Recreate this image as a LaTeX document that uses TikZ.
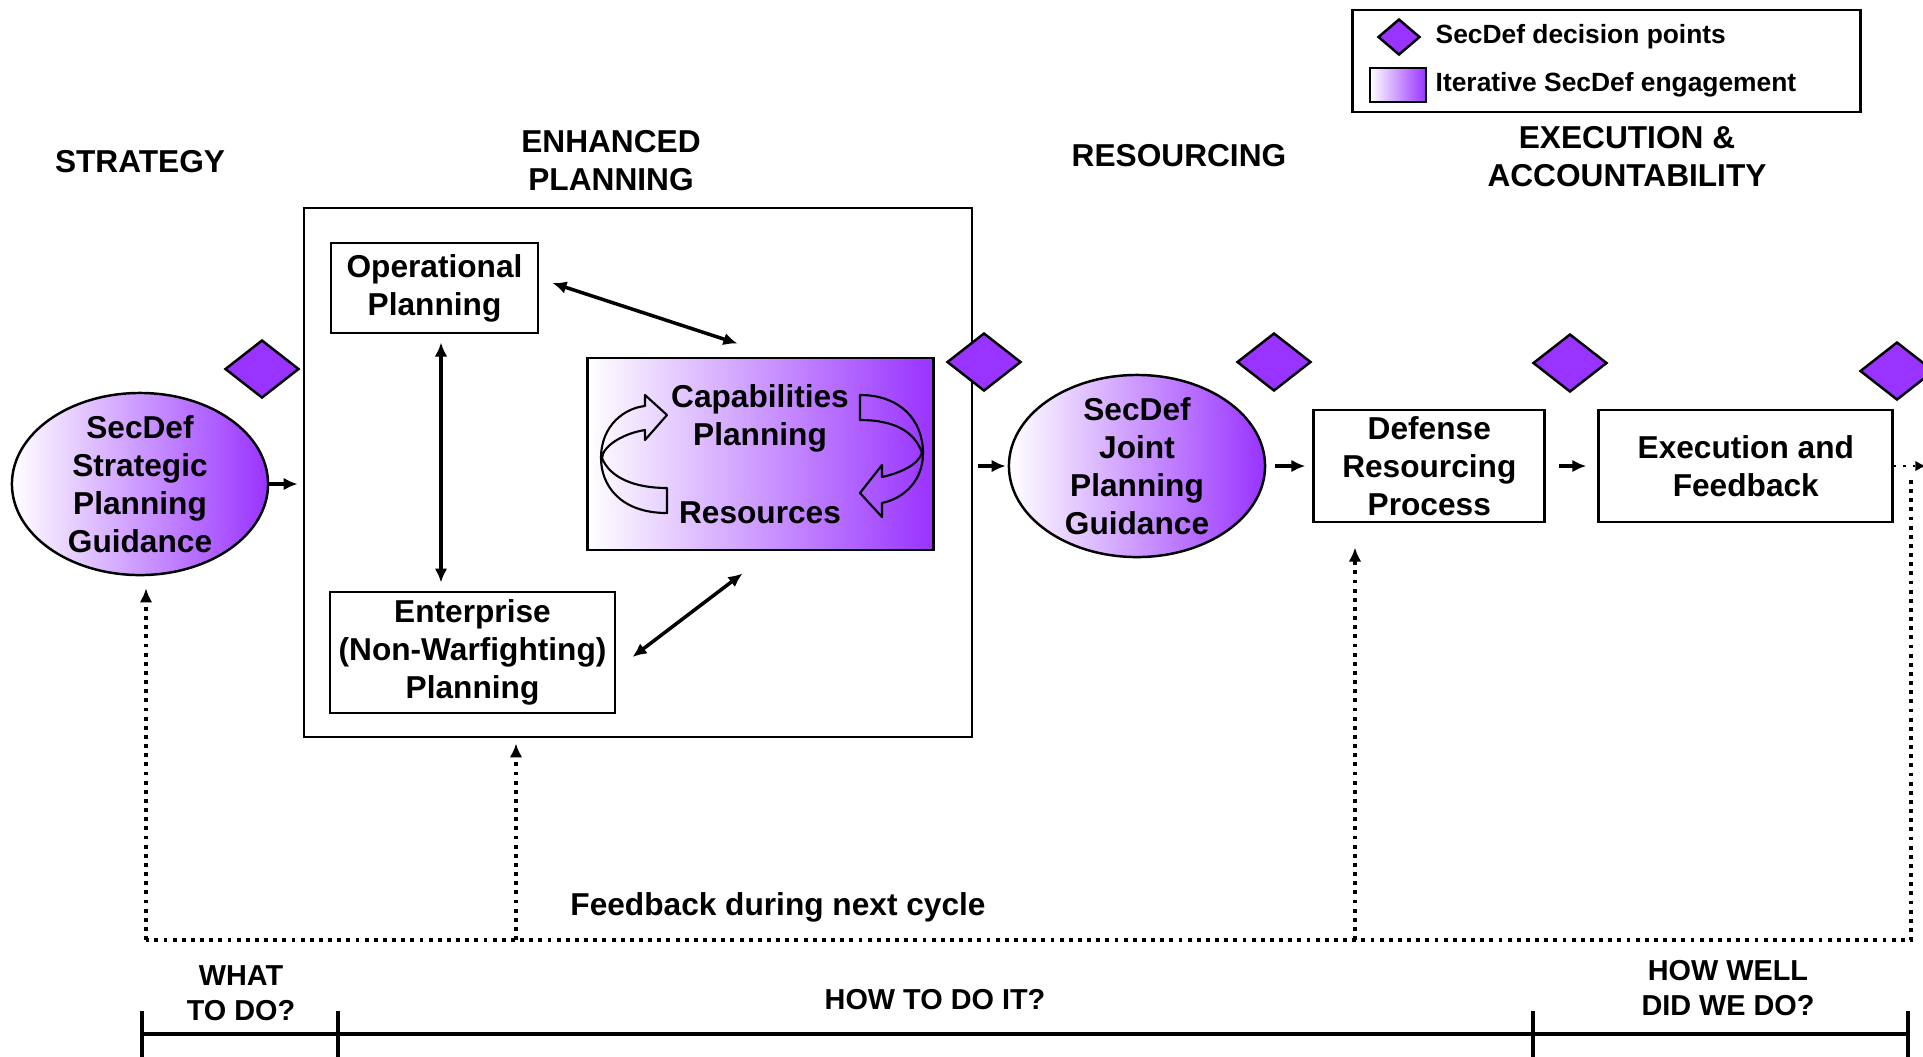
\documentclass[tikz,border=0pt]{standalone}
\usepackage{fontspec}
\setmainfont{Liberation Sans}
\usepackage{tikz}
\usetikzlibrary{positioning,shapes.geometric,arrows.meta,calc}
\definecolor{secpurple}{RGB}{153,51,255}

\begin{document}
\begin{tikzpicture}[x=0.01cm, y=-0.01cm,
        txt/.style={font=\bfseries\fontsize{9}{10.8}\selectfont, align=center, inner sep=0pt},
        smalltxt/.style={txt, font=\bfseries\fontsize{8.2}{10}\selectfont},
        legtxt/.style={txt, font=\bfseries\fontsize{7.5}{9}\selectfont, anchor=west},
        procbox/.style={rectangle, draw, line width=0.8pt, fill=white, txt},
        shadebox/.style={rectangle, draw, line width=0.8pt, left color=white, right color=secpurple},
        guide/.style={ellipse, draw, line width=0.7pt, left color=white, right color=secpurple, minimum width=2.56cm, minimum height=1.82cm, inner sep=0pt},
        decision/.style={diamond, draw, line width=0.7pt, fill=secpurple, minimum width=0.74cm, minimum height=0.58cm, inner sep=0pt},
        flow/.style={line width=1.1pt, -{Latex[length=4pt,width=3.6pt]}},
        both/.style={line width=1pt, {Latex[length=4pt,width=3.6pt]}-{Latex[length=4pt,width=3.6pt]}},
        feedback/.style={line width=1.1pt, dash pattern=on 1.1pt off 1.5pt},
        ribbon/.style={line width=0.6pt, line join=round}]

        \useasboundingbox (0,0) rectangle (1923,1056);
        \clip (0,0) rectangle (1923,1056);

        % legend
        \node[draw, line width=0.8pt, minimum width=5.07cm, minimum height=1.02cm] (legend) at (1606.5,61) {};
        \node[decision, minimum width=0.42cm, minimum height=0.36cm] (legdec) at (1399,37) {};
        \node[legtxt] (legdectxt) at (1435,37) {SecDef decision points};
        \node[shadebox, minimum width=0.56cm, minimum height=0.34cm] (legeng) at (1398,85) {};
        \node[legtxt] (legengtxt) at (1435,85) {Iterative SecDef engagement};

        % headings
        \node[txt] (hstrat) at (140,162) {STRATEGY};
        \node[txt] (hplan) at (611,161) {ENHANCED\\PLANNING};
        \node[txt] (hres) at (1179,156) {RESOURCING};
        \node[txt] (hexec) at (1627,157) {EXECUTION \&\\ACCOUNTABILITY};

        % strategy
        \node[guide] (sspg) at (140,484) {};
        \node[txt] (sspgtxt) at (sspg) {SecDef\\Strategic\\Planning\\Guidance};
        \node[decision] (dec1) at (262,369) {};

        % enhanced planning
        \node[rectangle, draw, line width=0.7pt, minimum width=6.68cm, minimum height=5.29cm] (plan) at (638,472.5) {};
        \node[procbox, minimum width=2.07cm, minimum height=0.9cm] (op) at (434.5,288) {Operational\\Planning};
        \node[procbox, minimum width=2.85cm, minimum height=1.21cm] (ent) at (472.5,652.5) {Enterprise\\(Non-Warfighting)\\Planning};
        \node[shadebox, minimum width=3.45cm, minimum height=1.92cm] (cap) at (760.5,454) {};
        \node[txt] (captxt) at (760,418) {Capabilities\\Planning};
        \node[txt] (restxt) at (760,513) {Resources};
        \draw[ribbon] (667,513) .. controls (620,513) and (601,485) .. (601,458) .. controls (601,425) and (625,408) .. (645,406) -- (645,395) -- (667,415) -- (645,440) -- (645,430) .. controls (625,433) and (603,445) .. (602,458) .. controls (610,478) and (635,488) .. (667,488) -- cycle;
        \draw[ribbon] (860,395) .. controls (900,395) and (923,420) .. (923,453) .. controls (923,480) and (905,498) .. (882,503) -- (882,517) -- (860,493) -- (882,465) -- (882,477) .. controls (900,473) and (918,465) .. (922,453) .. controls (915,432) and (895,420) .. (860,420) -- cycle;
        \node[decision] (dec2) at (984,362) {};

        % resourcing, execution
        \node[guide] (sjpg) at (1137,466) {};
        \node[txt] (sjpgtxt) at (sjpg) {SecDef\\Joint\\Planning\\Guidance};
        \node[decision] (dec3) at (1274,362) {};
        \node[procbox, minimum width=2.31cm, minimum height=1.12cm] (drp) [right=0.46cm of sjpg] {Defense\\Resourcing\\Process};
        \node[decision] (dec4) at (1570,363) {};
        \node[procbox, minimum width=2.94cm, minimum height=1.12cm] (exf) [right=0.51cm of drp] {Execution and\\Feedback};
        \node[decision] (dec5) at (1897,371) {};

        % connectors
        \draw[flow] (sspg.east) -- ($(sspg.east -| plan.west)+(-5,0)$);
        \draw[flow] ($(sjpg.west -| plan.east)+(5,0)$) -- ($(sjpg.west)+(-2,0)$);
        \draw[flow] ($(sjpg.east)+(9,0)$) -- ($(drp.west)+(-7,0)$);
        \draw[flow] ($(drp.east)+(13,0)$) -- ($(exf.west)+(-11,0)$);
        \draw[both] ($(op.east)+(13,-5)$) -- ($(cap.north)+(-23,-13)$);
        \draw[both] ($(op.south)+(6.5,8)$) -- ($(op.south |- ent.north)+(6.5,-8)$);
        \draw[both] ($(ent.east)+(16,4.5)$) -- ($(cap.south)+(-18,22)$);

        % feedback loop
        \coordinate (fbl) at (146,940);
        \coordinate (fbm) at (516,940);
        \coordinate (fbd) at (1355,940);
        \coordinate (fbr) at (1911,940);
        \draw[line width=0.6pt, dotted, -{Latex[length=3pt,width=3pt]}] (exf.east) -- (1926,466);
        \draw[feedback] (1911,480) -- (fbr) -- (fbl);
        \draw[feedback, -{Latex[length=4pt,width=3.6pt]}] (fbl) -- ($(fbl |- sspg.south)+(0,12)$);
        \draw[feedback, -{Latex[length=4pt,width=3.6pt]}] (fbm) -- ($(fbm |- plan.south)+(0,5)$);
        \draw[feedback, -{Latex[length=4pt,width=3.6pt]}] (fbd) -- ($(fbd |- drp.south)+(0,24)$);
        \node[txt] (fbtxt) at (778,907) {Feedback during next cycle};

        % timeline
        \coordinate (t0) at (142,1034);
        \coordinate (t1) at (338,1034);
        \coordinate (t2) at (1533,1034);
        \coordinate (t3) at (1908,1034);
        \draw[line width=1pt] (t0) -- (t3);
        \foreach \t in {t0,t1,t2,t3}
            \draw[line width=1pt] ($(\t)+(0,-23)$) -- ($(\t)+(0,25)$);
        \node[smalltxt] (what) at (241,993) {WHAT\\TO DO?};
        \node[smalltxt] (how) at (935,1000) {HOW TO DO IT?};
        \node[smalltxt] (howwell) at (1728,988) {HOW WELL\\DID WE DO?};

\end{tikzpicture}
\end{document}
